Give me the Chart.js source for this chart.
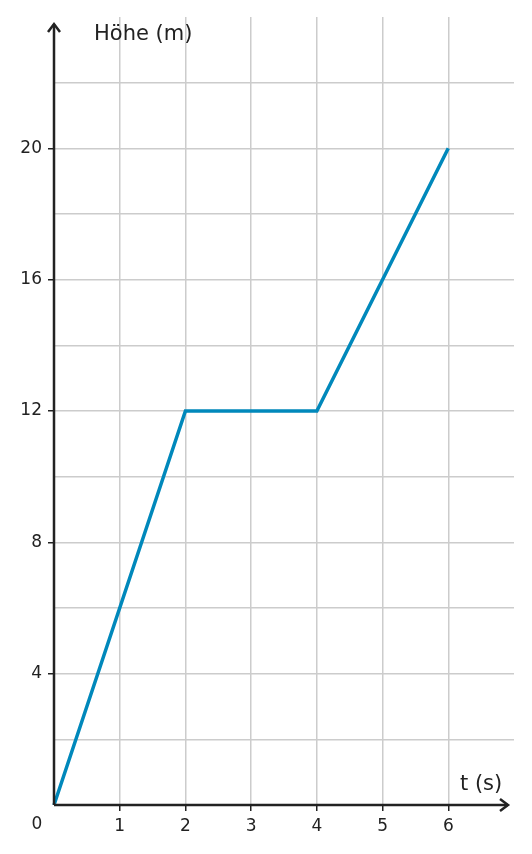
<!DOCTYPE html>
<html>
<head>
<meta charset="utf-8">
<script src="https://cdn.jsdelivr.net/npm/chart.js@4/dist/chart.umd.min.js"></script>
<style>
  html, body { margin: 0; padding: 0; background: #fff; }
  #wrap { width: 532px; height: 854px; }
</style>
</head>
<body>
<div id="wrap"><canvas id="c" width="532" height="854"></canvas></div>
<script>
// Zeit (s) und Höhe (m)
const timeValues = [0, 2, 4, 6];
const heightValues = [0, 12, 12, 20];
const xTickLabels = [1, 2, 3, 4, 5, 6];
const yTickLabels = [4, 8, 12, 16, 20];

const INK = '#222222';
const GRID = '#cccccc';
const FONT = 'DejaVu Sans';

const axisArrows = {
  id: 'axisArrows',
  afterDraw(chart) {
    const { ctx, chartArea: a } = chart;
    const ox = a.left, oy = a.bottom;
    ctx.save();
    ctx.strokeStyle = INK;
    ctx.lineWidth = 2.5;
    ctx.beginPath();
    ctx.moveTo(ox, oy); ctx.lineTo(508, oy);
    ctx.moveTo(ox, oy); ctx.lineTo(ox, 24);
    ctx.stroke();
    ctx.beginPath();
    ctx.moveTo(500, oy - 6); ctx.lineTo(508, oy); ctx.lineTo(500, oy + 6);
    ctx.moveTo(ox - 6, 32); ctx.lineTo(ox, 24); ctx.lineTo(ox + 6, 32);
    ctx.stroke();
    ctx.fillStyle = INK;
    ctx.font = `21px "${FONT}"`;
    ctx.textBaseline = 'middle';
    ctx.textAlign = 'left';
    ctx.fillText('Höhe (m)', 94, 35);
    ctx.fillText('t (s)', 460, 785);
    ctx.font = `17px "${FONT}"`;
    ctx.textAlign = 'center';
    ctx.fillText('0', 37, 825);
    ctx.restore();
  }
};

new Chart(document.getElementById('c'), {
  type: 'line',
  data: {
    datasets: [{
      data: timeValues.map((t, i) => ({ x: t, y: heightValues[i] })),
      borderColor: '#0088bb',
      borderWidth: 3.5,
      pointRadius: 0,
      tension: 0,
      clip: false
    }]
  },
  options: {
    responsive: false,
    animation: false,
    events: [],
    layout: { padding: { top: 17, right: 18, left: 0, bottom: 0 } },
    plugins: { legend: { display: false }, tooltip: { enabled: false } },
    scales: {
      x: {
        type: 'linear', min: 0, max: 7,
        afterFit: s => { s.height = 49; },
        afterBuildTicks: s => { s.ticks = [0,1,2,3,4,5,6,7].map(v => ({ value: v })); },
        border: { display: false },
        grid: {
          color: c => c.tick && (c.tick.value === 0 || c.tick.value === 7) ? 'rgba(0,0,0,0)' : GRID,
          lineWidth: 1.5,
          tickLength: 6,
          tickColor: c => xTickLabels.includes(c.tick && c.tick.value) ? INK : 'rgba(0,0,0,0)',
          tickWidth: 1.5
        },
        ticks: {
          autoSkip: false, maxRotation: 0, padding: 5,
          color: INK, font: { family: FONT, size: 17 },
          callback: v => xTickLabels.includes(v) ? String(v) : ''
        }
      },
      y: {
        type: 'linear', min: 0, max: 24,
        afterFit: s => { s.width = 54; },
        afterBuildTicks: s => { s.ticks = [0,2,4,6,8,10,12,14,16,18,20,22,24].map(v => ({ value: v })); },
        border: { display: false },
        grid: {
          color: c => c.tick && (c.tick.value === 0 || c.tick.value === 24) ? 'rgba(0,0,0,0)' : GRID,
          lineWidth: 1.5,
          tickLength: 6,
          tickColor: c => yTickLabels.includes(c.tick && c.tick.value) ? INK : 'rgba(0,0,0,0)',
          tickWidth: 1.5
        },
        ticks: {
          autoSkip: false, padding: 6,
          color: INK, font: { family: FONT, size: 17 },
          callback: v => yTickLabels.includes(v) ? String(v) : ''
        }
      }
    }
  },
  plugins: [axisArrows]
});
</script>
</body>
</html>
